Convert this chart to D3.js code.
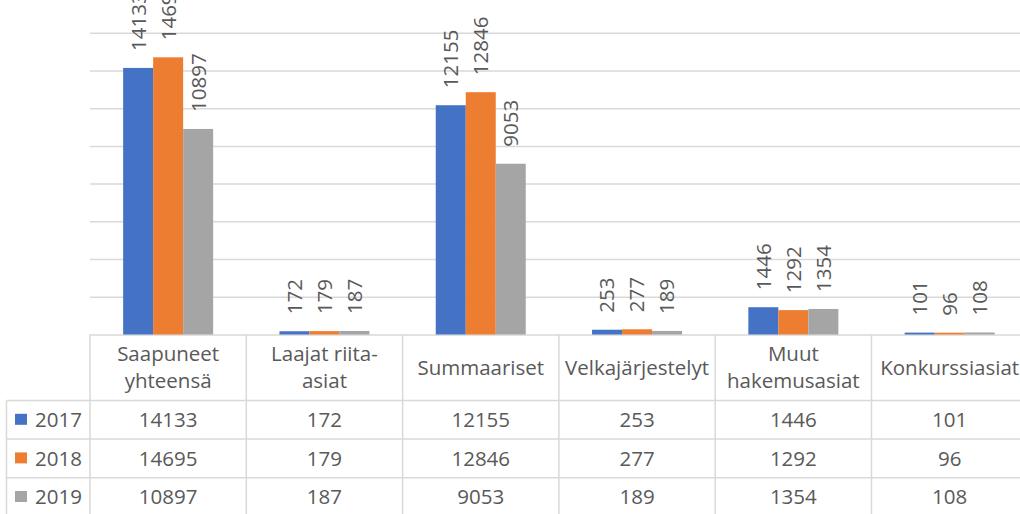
<!DOCTYPE html>
<html>
<head>
<meta charset="utf-8">
<script src="https://cdn.jsdelivr.net/npm/d3@7"></script>
<style>
  html, body { margin: 0; padding: 0; background: #fff; }
  svg { display: block; }
</style>
</head>
<body>
<div id="chart"></div>
<script>
// Chart data
const categories = ['Saapuneet\nyhteensä', 'Laajat riita-\nasiat', 'Summaariset', 'Velkajärjestelyt', 'Muut\nhakemusasiat', 'Konkurssiasiat']
const years = ['2017', '2018', '2019']
const values2017 = [14133, 172, 12155, 253, 1446, 101]
const values2018 = [14695, 179, 12846, 277, 1292, 96]
const values2019 = [10897, 187, 9053, 189, 1354, 108]
const colors = ['#4472C4', '#ED7D31', '#A5A5A5']
const yTicks = [0, 2000, 4000, 6000, 8000, 10000, 12000, 14000, 16000]

const series = [values2017, values2018, values2019]

const width = 1020
const height = 514
const font = '"Open Sans", "DejaVu Sans", sans-serif'
const fontSize = 20.5
const textColor = '#595959'
const lineColor = '#d9d9d9'

let left = 90
let colW = 156.3
let barW = 30
let plotBottom = 334.5
let headerH = 66
let rowH = 38.6
let legendLeft = 6.5

let x = d3.scaleBand()
  .domain(categories)
  .range([left, left + colW * categories.length])
  .padding(0)

let gap = (colW - barW * years.length) / 2
let x1 = d3.scaleBand()
  .domain(years)
  .range([gap, colW - gap])
  .padding(0)

let y = d3.scaleLinear()
  .domain([0, 16000])
  .range([plotBottom, 32.7])

let svg = d3.select('#chart')
  .append('svg')
  .attr('width', width)
  .attr('height', height)
  .style('font-family', font)

// Horizontal grid lines
svg.append('g')
  .attr('transform', `translate(${left}, 0)`)
  .call(d3.axisLeft(y).tickValues(yTicks).tickSize(-(width - left)).tickFormat(''))
  .call(g => g.select('.domain').remove())
  .call(g => g.selectAll('.tick line')
    .attr('stroke', lineColor)
    .attr('stroke-width', 1.5))

// Bars per category
let groups = svg.append('g')
  .selectAll('.group')
  .data(categories)
  .join('g')
  .attr('class', 'group')
  .attr('transform', d => `translate(${x(d)}, 0)`)

groups.selectAll('rect')
  .data((d, ci) => years.map((yr, si) => ({ year: yr, value: series[si][ci], color: colors[si] })))
  .join('rect')
  .attr('x', d => x1(d.year))
  .attr('y', d => y(d.value))
  .attr('width', x1.bandwidth())
  .attr('height', d => y(0) - y(d.value))
  .attr('fill', d => d.color)

// Rotated value labels above each bar
groups.selectAll('.label')
  .data((d, ci) => years.map((yr, si) => ({ year: yr, value: series[si][ci] })))
  .join('text')
  .attr('class', 'label')
  .attr('transform', d => `translate(${x1(d.year) + x1.bandwidth() / 2}, ${y(d.value) - 17}) rotate(-90)`)
  .attr('dy', '0.36em')
  .attr('font-size', fontSize)
  .attr('fill', textColor)
  .text(d => d.value)

// Data table below the plot
let table = svg.append('g').attr('class', 'table')
let tableTop = plotBottom
let bodyTop = tableTop + headerH
let tableBottom = bodyTop + rowH * years.length

// vertical borders
table.selectAll('.vline')
  .data(d3.range(categories.length + 1))
  .join('line')
  .attr('x1', i => left + i * colW)
  .attr('x2', i => left + i * colW)
  .attr('y1', tableTop)
  .attr('y2', tableBottom)
  .attr('stroke', lineColor)
  .attr('stroke-width', 1.5)

table.append('line')
  .attr('x1', legendLeft).attr('x2', legendLeft)
  .attr('y1', bodyTop).attr('y2', tableBottom)
  .attr('stroke', lineColor)
  .attr('stroke-width', 1.5)

// horizontal borders
table.selectAll('.hline')
  .data(d3.range(years.length + 1))
  .join('line')
  .attr('x1', legendLeft)
  .attr('x2', width)
  .attr('y1', i => bodyTop + i * rowH)
  .attr('y2', i => bodyTop + i * rowH)
  .attr('stroke', lineColor)
  .attr('stroke-width', 1.5)

// header labels, may wrap on two lines
table.selectAll('.head')
  .data(categories)
  .join('text')
  .attr('class', 'head')
  .attr('text-anchor', 'middle')
  .attr('font-size', fontSize)
  .attr('fill', textColor)
  .each(function(d) {
    let lines = d.split('\n')
    let cx = x(d) + colW / 2
    let cy = tableTop + headerH / 2
    let lh = 27
    d3.select(this).selectAll('tspan')
      .data(lines)
      .join('tspan')
      .attr('x', cx)
      .attr('y', (l, i) => cy + (i - (lines.length - 1) / 2) * lh)
      .attr('dy', '0.35em')
      .text(l => l)
  })

// table body rows
let rows = table.selectAll('.row')
  .data(years)
  .join('g')
  .attr('class', 'row')
  .attr('transform', (d, i) => `translate(0, ${bodyTop + i * rowH + rowH / 2})`)

rows.append('rect')
  .attr('x', 15)
  .attr('y', -6)
  .attr('width', 12)
  .attr('height', 11)
  .attr('fill', (d, i) => colors[i])

rows.append('text')
  .attr('x', 35)
  .attr('dy', '0.35em')
  .attr('font-size', fontSize)
  .attr('fill', textColor)
  .text(d => d)

rows.selectAll('.cell')
  .data((d, si) => categories.map((c, ci) => ({ cat: c, value: series[si][ci] })))
  .join('text')
  .attr('class', 'cell')
  .attr('x', d => x(d.cat) + colW / 2)
  .attr('dy', '0.35em')
  .attr('text-anchor', 'middle')
  .attr('font-size', fontSize)
  .attr('fill', textColor)
  .text(d => d.value)
</script>
</body>
</html>
